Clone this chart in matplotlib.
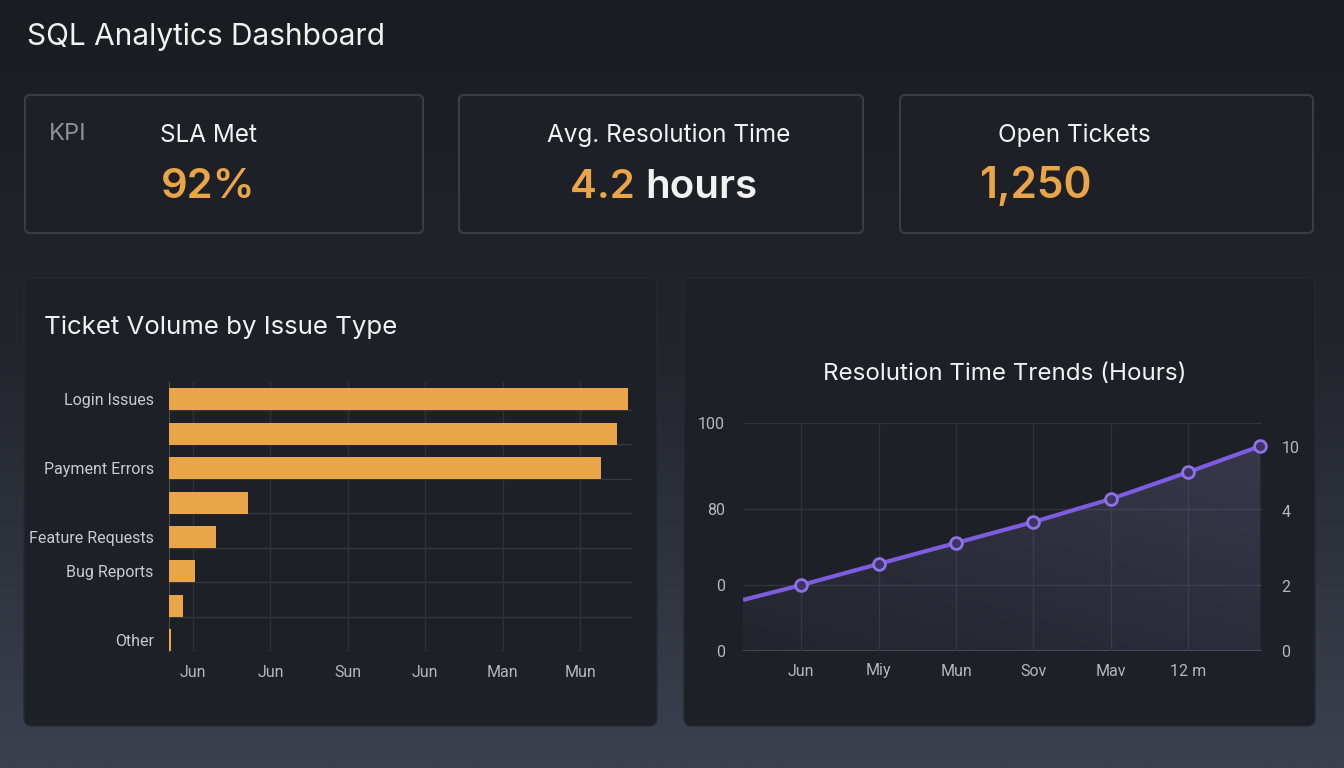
import numpy as np
import matplotlib
matplotlib.use("Agg")
import matplotlib.pyplot as plt
from matplotlib.patches import FancyBboxPatch, Polygon

# ---- data ----
issue_labels = ["Login Issues", "", "Payment Errors", "", "Feature Requests", "Bug Reports", "", "Other"]
issue_counts = [1186, 1158, 1116, 204, 121, 67, 36, 5]
bar_tick_pos = [62, 262, 462, 662, 862, 1062]
bar_tick_labels = ["Jun", "Jun", "Sun", "Jun", "Man", "Mun"]

trend_x = [-0.75, 0, 1, 2, 3, 4, 5, 5.93]
trend_y = [22.4, 28.9, 38.2, 47.4, 56.6, 66.7, 78.5, 89.9]
trend_tick_pos = [0, 1, 2, 3, 4, 5]
trend_tick_labels = ["Jun", "Miy", "Mun", "Sov", "Mav", "12 m"]
left_ticks = [0, 28.9, 62.3, 100]
left_tick_labels = ["0", "0", "80", "100"]
right_ticks = [0, 28.5, 61.4, 89.5]
right_tick_labels = ["0", "2", "4", "10"]

kpi_titles = ["SLA Met", "Avg. Resolution Time", "Open Tickets"]

W, H = 1344, 768
ORANGE = "#e9a547"
PURPLE = "#7d5ce0"
PANEL = "#1e2027"
TXT = "#f2f2f2"
TICK = "#b4b7bd"

fig = plt.figure(figsize=(W / 100, H / 100), dpi=100)


def px_axes(x, y, w, h, **kw):
    return fig.add_axes([x / W, 1 - (y + h) / H, w / W, h / H], **kw)


# background gradient
bg = px_axes(0, 0, W, H)
bg.set_xlim(0, W)
bg.set_ylim(H, 0)
bg.axis("off")
top = np.array([0x1a, 0x1c, 0x21]) / 255
mid = np.array([0x22, 0x25, 0x2c]) / 255
bot = np.array([0x3b, 0x41, 0x4f]) / 255
t = np.linspace(0, 1, 256)[:, None]
grad = np.where(t < 0.45, top + (mid - top) * (t / 0.45), mid + (bot - mid) * ((t - 0.45) / 0.55))
bg.imshow(grad[:, None, :].repeat(2, axis=1), extent=[0, W, H, 0], aspect="auto", zorder=0)

bg.text(27, 37, "SQL Analytics Dashboard", color=TXT, fontsize=21.5, family="Inter",
        va="center", ha="left")

# KPI cards
cards = [(25, 95, 398, 138), (459, 95, 404, 138), (900, 95, 413, 138)]
for (x, y, w, h) in cards:
    bg.add_patch(FancyBboxPatch((x, y), w, h, boxstyle="round,pad=0,rounding_size=5",
                                fc="#1e2027", ec="#3a3d45", lw=1.5, zorder=2))

bg.text(49, 134, "KPI", color="#8e9197", fontsize=17, family="Inter", va="center", zorder=3)
bg.text(160, 135, kpi_titles[0], color=TXT, fontsize=17.5, family="Inter", va="center", zorder=3)
bg.text(161, 187, "92%", color=ORANGE, fontsize=30, family="Inter", weight="semibold",
        va="center", zorder=3)

bg.text(669, 135, kpi_titles[1], color=TXT, fontsize=17.5, family="Inter", va="center",
        ha="center", zorder=3)
t1 = bg.text(570, 187, "4.2 ", color=ORANGE, fontsize=29, family="Inter", weight="semibold",
             va="center", zorder=3)
fig.canvas.draw()
bb = t1.get_window_extent().transformed(bg.transData.inverted())
bg.text(bb.x1, 187, "hours", color=TXT, fontsize=29, family="Inter", weight="semibold",
        va="center", zorder=3)

bg.text(1074, 135, kpi_titles[2], color=TXT, fontsize=17.5, family="Inter", va="center",
        ha="center", zorder=3)
bg.text(979, 187, "1,250", color=ORANGE, fontsize=30.5, family="Inter", weight="semibold",
        va="center", zorder=3)

# chart panels
for (x, y, w, h) in [(24, 278, 633, 448), (684, 278, 631, 448)]:
    bg.add_patch(FancyBboxPatch((x, y), w, h, boxstyle="round,pad=0,rounding_size=8",
                                fc=PANEL, ec="#272a31", lw=1, zorder=2))

bg.text(44, 327, "Ticket Volume by Issue Type", color=TXT, fontsize=18.6, family="Inter",
        va="center", zorder=3)
bg.text(1005, 374, "Resolution Time Trends (Hours)", color=TXT, fontsize=17.4, family="Inter",
        va="center", ha="center", zorder=3)

# ---- bar chart ----
ax1 = px_axes(169, 382, 463, 269)
ax1.set_facecolor("none")
rows = np.arange(len(issue_counts))
ax1.barh(rows, issue_counts, height=0.64, color=ORANGE, zorder=3)
ax1.set_xlim(0, 1196)
ax1.set_ylim(7.31, -0.5)
for r in rows:
    ax1.axhline(r + 0.31, color="#34373f", lw=1, zorder=1)
for xp in bar_tick_pos:
    ax1.axvline(xp, color="#2f323a", lw=1, zorder=1)
ax1.set_yticks(rows)
ax1.set_yticklabels(issue_labels, family="Roboto", fontsize=11.5, color="#c9cbcf")
ax1.set_xticks(bar_tick_pos)
ax1.set_xticklabels(bar_tick_labels, family="Roboto", fontsize=11.5, color=TICK)
ax1.tick_params(length=0, pad=10)
ax1.tick_params(axis="y", pad=11)
for s in ["top", "right", "bottom"]:
    ax1.spines[s].set_visible(False)
ax1.spines["left"].set_color("#4a4d55")

# ---- line chart ----
ax2 = px_axes(743, 423, 519, 228)
ax2.set_facecolor("none")
ax2.set_xlim(-0.75, 5.95)
ax2.set_ylim(0, 100)
for yv in left_ticks:
    ax2.axhline(yv, color="#4a4d55" if yv == 0 else "#31343c", lw=1.2 if yv == 0 else 1, zorder=1)
for xp in trend_tick_pos:
    ax2.axvline(xp, color="#2f323a", lw=1, zorder=1)

# gradient fill under the line
poly_pts = [(trend_x[0], 0)] + list(zip(trend_x, trend_y)) + [(trend_x[-1], 0)]
poly = Polygon(poly_pts, closed=True, fc="none", ec="none")
ax2.add_patch(poly)
gy, gx = np.mgrid[0:1:200j, 0:1:200j]
alpha = 0.06 + 0.28 * (0.6 * gy + 0.4 * gx)
fill_img = np.zeros((200, 200, 4))
fill_img[..., 0] = 0.44
fill_img[..., 1] = 0.42
fill_img[..., 2] = 0.60
fill_img[..., 3] = alpha
im = ax2.imshow(fill_img, extent=[trend_x[0], trend_x[-1], 0, 100], origin="lower",
                aspect="auto", zorder=2)
im.set_clip_path(poly)

ax2.plot(trend_x, trend_y, color=PURPLE, lw=3, zorder=4, solid_capstyle="butt")
ax2.plot(trend_x[1:], trend_y[1:], ls="none", marker="o", ms=8.5, mfc="#3d3461",
         mec="#8f72e8", mew=2, zorder=5, clip_on=False)

ax2.set_xticks(trend_tick_pos)
ax2.set_xticklabels(trend_tick_labels, family="Roboto", fontsize=11.5, color=TICK)
ax2.set_yticks(left_ticks)
ax2.set_yticklabels(left_tick_labels, family="Roboto", fontsize=11.5, color=TICK)
ax2.tick_params(length=0, pad=9)
ax2.tick_params(axis="y", pad=13)
for s in ax2.spines.values():
    s.set_visible(False)

ax3 = ax2.twinx()
ax3.set_ylim(0, 100)
ax3.set_yticks(right_ticks)
ax3.set_yticklabels(right_tick_labels, family="Roboto", fontsize=11.5, color=TICK)
ax3.tick_params(length=0, pad=14)
for s in ax3.spines.values():
    s.set_visible(False)

fig.savefig("out.png", dpi=100, facecolor=fig.get_facecolor())
